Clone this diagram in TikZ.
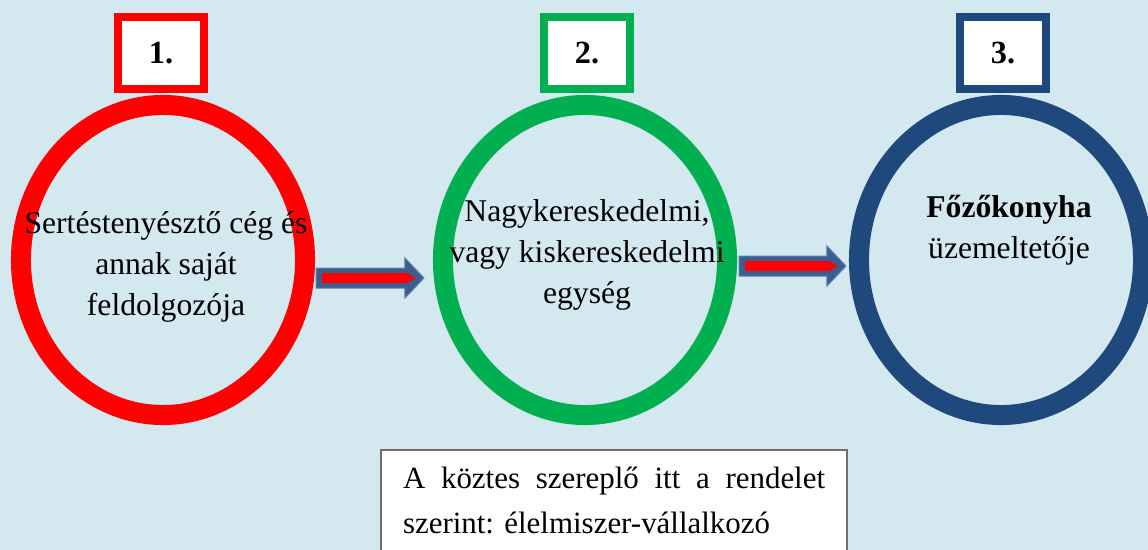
\documentclass[tikz,border=0pt]{standalone}
\usepackage{fontspec}
\setmainfont{Liberation Serif}
\usetikzlibrary{shapes.geometric,calc}

\definecolor{bgblue}{RGB}{211,232,239}
\definecolor{ringred}{RGB}{255,0,0}
\definecolor{ringgreen}{RGB}{0,176,80}
\definecolor{ringnavy}{RGB}{31,73,125}
\definecolor{arrowblue}{RGB}{59,94,145}
\definecolor{arrowedge}{RGB}{96,126,166}
\definecolor{boxgray}{RGB}{110,110,110}

\newcommand{\ysc}[0]{-0.025}
\newcommand{\xsc}[0]{0.025}

\newcommand{\flowarrow}[2]{%
\filldraw[fill=arrowblue, draw=arrowedge, line width=0.025cm]
  ($(#1)+(0,-10)$) -- ($(#2)+(-19,-10)$) -- ($(#2)+(-19,-20)$) -- (#2)
  -- ($(#2)+(-19,20)$) -- ($(#2)+(-19,10)$) -- ($(#1)+(0,10)$) -- cycle;
\fill[ringred]
  ($(#1)+(6,-5)$) -- ($(#2)+(-17,-5)$) -- ($(#2)+(-8,0)$)
  -- ($(#2)+(-17,5)$) -- ($(#1)+(6,5)$) -- cycle;}

\frenchspacing

\begin{document}
\begin{tikzpicture}[x=\xsc cm, y=\ysc cm,
  ring/.style={draw=#1, ellipse, line width=0.5cm, minimum width=7.1cm,
    minimum height=7.75cm, inner sep=0pt},
  numbox/.style={draw=#1, fill=white, line width=0.2cm, minimum width=2.15cm,
    minimum height=1.8cm, font=\fontsize{23}{26}\selectfont\bfseries},
  ringtext/.style={align=center, font=\fontsize{22.5}{29}\selectfont},
  notebox/.style={draw=boxgray, fill=white, line width=0.05cm, anchor=north west,
    text width=10.55cm, inner xsep=0.55cm, inner ysep=0.42cm, text depth=1.6cm,
    align=left, font=\fontsize{22}{32}\selectfont}]

\useasboundingbox (0,0) rectangle (1148,550);
\fill[bgblue] (0,0) rectangle (1148,550);

\node[ring=ringred] (c1) at (163,260) {};
\node[ring=ringgreen] (c2) at (585,260) {};
\node[ring=ringnavy] (c3) at (1001,260) {};

\node[numbox=ringred] (n1) at (161,53) {1.};
\node[numbox=ringgreen] (n2) at (587,53) {2.};
\node[numbox=ringnavy] (n3) at (1003,53) {3.};

\node[ringtext] (t1) at (166,267) {Sertéstenyésztő cég és\\annak saját\\feldolgozója};
\node[ringtext] (t2) at (587,255) {Nagykereskedelmi,\\vagy kiskereskedelmi\\egység};
\node[ringtext] (t3) at (1009,230) {\textbf{Főzőkonyha}\\üzemeltetője};

\coordinate (a1) at ($(c1.east)+(1,18)$);
\coordinate (b1) at ($(c2.west)+(-9,18)$);
\coordinate (a2) at ($(c2.east)+(2,6)$);
\coordinate (b2) at ($(c3.west)+(-3,6)$);
\flowarrow{a1}{b1}
\flowarrow{a2}{b2}

\node[notebox] (note) at (380,449)
  {\hbox to 10.55cm{A\hfill köztes\hfill szereplő\hfill itt\hfill a\hfill rendelet}\\
   szerint: élelmiszer-vállalkozó};

\end{tikzpicture}
\end{document}
